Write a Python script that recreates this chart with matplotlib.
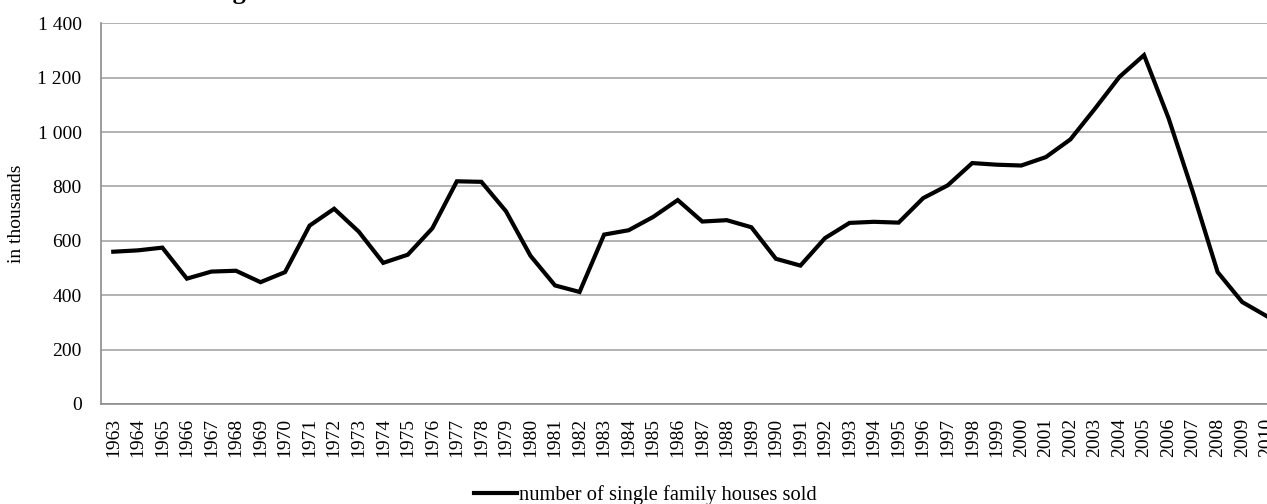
import numpy as np
import matplotlib.pyplot as plt
from matplotlib.ticker import FuncFormatter

# data (thousands of houses)
years = list(range(1963, 2011))
houses_sold = [560, 565, 575, 461, 487, 490, 448, 485, 656, 718,
               634, 519, 549, 646, 819, 817, 709, 545, 436, 412,
               623, 639, 688, 750, 671, 676, 650, 534, 509, 610,
               666, 670, 667, 757, 804, 886, 880, 877, 908, 973,
               1086, 1203, 1283, 1051, 776, 485, 375, 323]
series_label = "number of single family houses sold"
y_label = "in thousands"
y_ticks = [0, 200, 400, 600, 800, 1000, 1200, 1400]

plt.rcParams['font.family'] = ['Liberation Serif', 'DejaVu Serif']

fig = plt.figure(figsize=(12.67, 5.04), dpi=100)
# the category axis runs past the right edge of the picture, as in the original crop
ax = fig.add_axes([101.0 / 1267, 100.0 / 504, 1178.0 / 1267, 380.7 / 504])

x = np.arange(len(years))
ax.plot(x, houses_sold, color='black', linewidth=3, label=series_label,
        solid_joinstyle='miter')

ax.set_xlim(-0.5, len(years) - 0.5)
ax.set_ylim(0, 1400)
ax.set_xticks(x)
ax.set_xticklabels([str(y) for y in years], rotation=90, fontsize=14)
ax.set_yticks(y_ticks)
ax.yaxis.set_major_formatter(FuncFormatter(lambda v, p: "{:,}".format(int(v)).replace(",", " ")))
ax.tick_params(axis='x', length=0, pad=10)
ax.tick_params(axis='y', length=0, pad=14, labelsize=14)

ax.grid(axis='y', color='#a6a6a6', linewidth=1.2)
ax.set_axisbelow(True)
for s in ['top', 'right']:
    ax.spines[s].set_visible(False)
for s in ['left', 'bottom']:
    ax.spines[s].set_color('#8c8c8c')
    ax.spines[s].set_linewidth(1.2)

fig.text(17 / 1267, 1 - 214 / 504, y_label, rotation=90, ha='center', va='center', fontsize=14)

fig.legend(loc='center', bbox_to_anchor=(645 / 1267, 1 - 495 / 504), frameon=False,
           fontsize=14.8, handlelength=2.1, handletextpad=0.1, borderpad=0)

# title of the source figure, almost completely cropped away at the top
fig.text(210 / 1267, 1.0 + 1 / 504, "Figure", ha='left', va='baseline', fontsize=19, fontweight='bold')

fig.savefig("out.png", dpi=100)
